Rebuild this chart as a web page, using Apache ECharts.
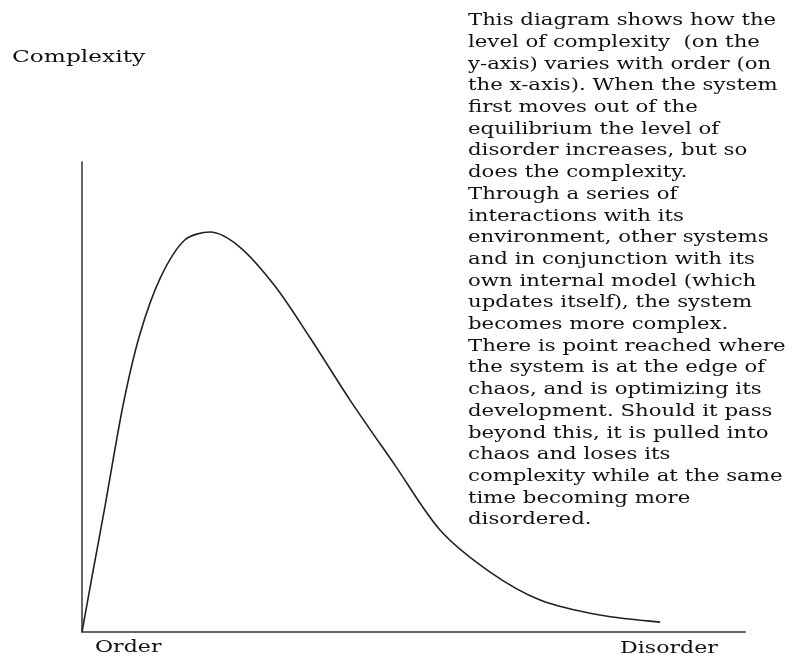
<!DOCTYPE html>
<html>
<head>
<meta charset="utf-8">
<script src="https://cdn.jsdelivr.net/npm/echarts@6/dist/echarts.min.js"></script>
<style>
html,body{margin:0;padding:0;background:#fff;}
#chart{width:793px;height:658px;}
</style>
</head>
<body>
<div id="chart"></div>
<script>
// Data (x: order -> disorder, 0..100; y: complexity, 0..100)
var orderX = [0, 1.5, 3.5, 6.2, 8.7, 11.8, 15.5, 19.3, 23.8, 29.1, 34.4, 40.4, 47.2, 54.0, 61.5, 69.1, 78.1, 87.2];
var complexityY = [0, 11.7, 27.0, 48.3, 63.2, 75.3, 83.4, 85.1, 81.9, 73.6, 62.6, 49.4, 35.5, 21.7, 12.8, 6.8, 3.6, 2.1];
var xEndLabels = ['Order', 'Disorder'];
var yAxisTitle = 'Complexity';
var noteLines = [
  'This diagram shows how the',
  'level of complexity  (on the',
  'y-axis) varies with order (on',
  'the x-axis). When the system',
  'first moves out of the',
  'equilibrium the level of',
  'disorder increases, but so',
  'does the complexity.',
  'Through a series of',
  'interactions with its',
  'environment, other systems',
  'and in conjunction with its',
  'own internal model (which',
  'updates itself), the system',
  'becomes more complex.',
  'There is point reached where',
  'the system is at the edge of',
  'chaos, and is optimizing its',
  'development. Should it pass',
  'beyond this, it is pulled into',
  'chaos and loses its',
  'complexity while at the same',
  'time becoming more',
  'disordered.'
];

var seriesData = orderX.map(function (x, i) { return [x, complexityY[i]]; });
var FONT = '"DejaVu Serif", "Liberation Serif", serif';
var SX = 1.3;

function label(txt, x, y, size, sx) {
  return {
    type: 'text', x: x, y: y, scaleX: sx,
    style: { text: txt, font: size + 'px ' + FONT, fill: '#111', verticalAlign: 'middle', align: 'left' }
  };
}

var chart = echarts.init(document.getElementById('chart'));
chart.setOption({
  animation: false,
  backgroundColor: '#ffffff',
  grid: { left: 82, right: 48, top: 162, bottom: 26 },
  xAxis: {
    type: 'value', min: 0, max: 100,
    axisLine: { show: true, lineStyle: { color: '#666', width: 2 } },
    axisTick: { show: false },
    splitLine: { show: false },
    axisLabel: { show: false }
  },
  yAxis: {
    type: 'value', min: 0, max: 100,
    axisLine: { show: true, lineStyle: { color: '#666', width: 2 } },
    axisTick: { show: false },
    splitLine: { show: false },
    axisLabel: { show: false }
  },
  series: [{
    type: 'line',
    data: seriesData,
    smooth: 0.3,
    showSymbol: false,
    lineStyle: { color: '#222', width: 1.6 }
  }],
  graphic: [
    label(yAxisTitle, 12, 58, 17, 1.37),
    label(xEndLabels[0], 95, 648, 17, SX),
    label(xEndLabels[1], 620, 649, 17, SX),
    {
      type: 'text',
      x: 468, y: 10,
      scaleX: 1.25,
      style: {
        text: noteLines.join('\n'),
        font: '17px ' + FONT,
        lineHeight: 21.7,
        fill: '#111',
        verticalAlign: 'top',
        align: 'left'
      }
    }
  ]
});
</script>
</body>
</html>
